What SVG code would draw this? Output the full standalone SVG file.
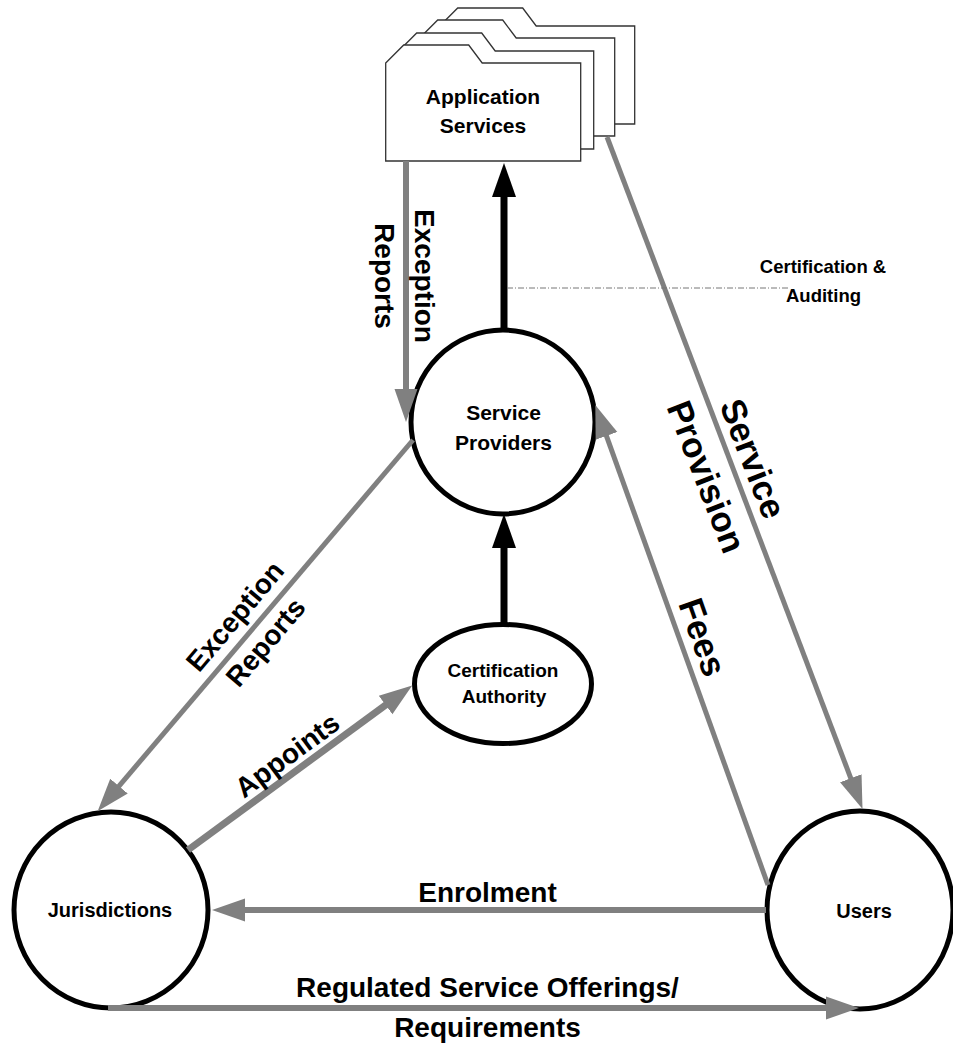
<svg xmlns="http://www.w3.org/2000/svg" width="953" height="1043" viewBox="0 0 953 1043">
<style>
.t{font-family:"Liberation Sans",Arial,sans-serif;font-weight:bold;fill:#000;text-anchor:middle}
.box{fill:#fff;stroke:#333;stroke-width:1.3}
.node{fill:#fff;stroke:#000;stroke-width:5}
.g{stroke:#808080;fill:none}
.k{stroke:#000;stroke-width:7;fill:none}
</style>
<defs>
<marker id="ag" markerUnits="userSpaceOnUse" markerWidth="40" markerHeight="30" viewBox="0 -15 40 30" refX="2" refY="0" orient="auto">
<path d="M0,-11.5 L33,0 L0,11.5 Z" fill="#808080"/>
</marker>
<marker id="ak" markerUnits="userSpaceOnUse" markerWidth="40" markerHeight="30" viewBox="0 -15 40 30" refX="2" refY="0" orient="auto">
<path d="M0,-12 L34,0 L0,12 Z" fill="#000"/>
</marker>
</defs>
<g id="application-services">
<path class="box" d="M439.7,26 L457.7,8 L522.7,8 L536.2,26 L634.7,26 L634.7,124 L439.7,124 Z"/>
<path class="box" d="M419.7,38 L437.7,20 L502.7,20 L516.2,38 L614.7,38 L614.7,136 L419.7,136 Z"/>
<path class="box" d="M398.7,51 L416.7,33 L481.7,33 L495.2,51 L593.7,51 L593.7,149 L398.7,149 Z"/>
<path class="box" d="M385.7,63 L403.7,45 L468.7,45 L482.2,63 L580.7,63 L580.7,161 L385.7,161 Z"/>
<text class="t" x="483" y="104" font-size="21">Application</text>
<text class="t" x="483" y="133" font-size="21">Services</text>
</g>
<g id="service-providers">
<circle class="node" cx="503" cy="422" r="92"/>
<text class="t" x="503.5" y="420" font-size="21">Service</text>
<text class="t" x="503.5" y="450" font-size="21">Providers</text>
</g>
<g id="certification-authority">
<ellipse class="node" cx="503" cy="684" rx="88.5" ry="59.5"/>
<text class="t" x="503" y="677" font-size="19">Certification</text>
<text class="t" x="504" y="703" font-size="19">Authority</text>
</g>
<g id="jurisdictions">
<ellipse class="node" cx="111" cy="910" rx="97" ry="98"/>
<text class="t" x="110" y="917" font-size="20">Jurisdictions</text>
</g>
<g id="users">
<ellipse class="node" cx="860" cy="910" rx="93" ry="99"/>
<text class="t" x="864" y="917.5" font-size="20">Users</text>
</g>
<g id="connectors">
<line class="k" x1="504" y1="330" x2="504" y2="195" marker-end="url(#ak)"/>
<line class="k" x1="504" y1="624" x2="504" y2="546" marker-end="url(#ak)"/>
<line class="g" stroke-width="6" x1="406" y1="161" x2="406" y2="391" marker-end="url(#ag)"/>
<line class="g" stroke-width="5" x1="607" y1="137" x2="851.5" y2="780.1" marker-end="url(#ag)"/>
<line class="g" stroke-width="5" x1="768" y1="885" x2="605.8" y2="434.1" marker-end="url(#ag)"/>
<line class="g" stroke-width="5" x1="413" y1="440" x2="117.7" y2="787.6" marker-end="url(#ag)"/>
<line class="g" stroke-width="7" x1="188" y1="850" x2="387.2" y2="703.9" marker-end="url(#ag)"/>
<line class="g" stroke-width="6" x1="766" y1="910" x2="243" y2="910" marker-end="url(#ag)"/>
<line class="g" stroke-width="6" x1="108" y1="1008" x2="828" y2="1008" marker-end="url(#ag)"/>
<line x1="507" y1="288" x2="790" y2="288" stroke="#777" stroke-width="1" stroke-dasharray="6 2 1 2"/>
</g>
<g id="labels">
<text class="t" x="823" y="273" font-size="18.5">Certification &amp;</text>
<text class="t" x="823.5" y="302" font-size="18.5">Auditing</text>
<g transform="translate(405,276) rotate(90)">
<text class="t" x="0" y="-10" font-size="28">Exception</text>
<text class="t" x="0" y="30" font-size="28">Reports</text>
</g>
<g transform="translate(250,629) rotate(-49.7)">
<text class="t" x="0" y="-10" font-size="28">Exception</text>
<text class="t" x="0" y="30" font-size="28">Reports</text>
</g>
<g transform="translate(730,467.5) rotate(68.8)">
<text class="t" x="0" y="-12.5" font-size="35">Service</text>
<text class="t" x="0" y="37.5" font-size="35">Provision</text>
</g>
<g transform="translate(703,637) rotate(70.6)">
<text class="t" x="0" y="12.5" font-size="35">Fees</text>
</g>
<g transform="translate(287,755) rotate(-36.3)">
<text class="t" x="0" y="10" font-size="28">Appoints</text>
</g>
<text class="t" x="487.5" y="902" font-size="28">Enrolment</text>
<text class="t" x="487.5" y="997" font-size="28">Regulated Service Offerings/</text>
<text class="t" x="487.5" y="1037" font-size="28">Requirements</text>
</g>
</svg>
